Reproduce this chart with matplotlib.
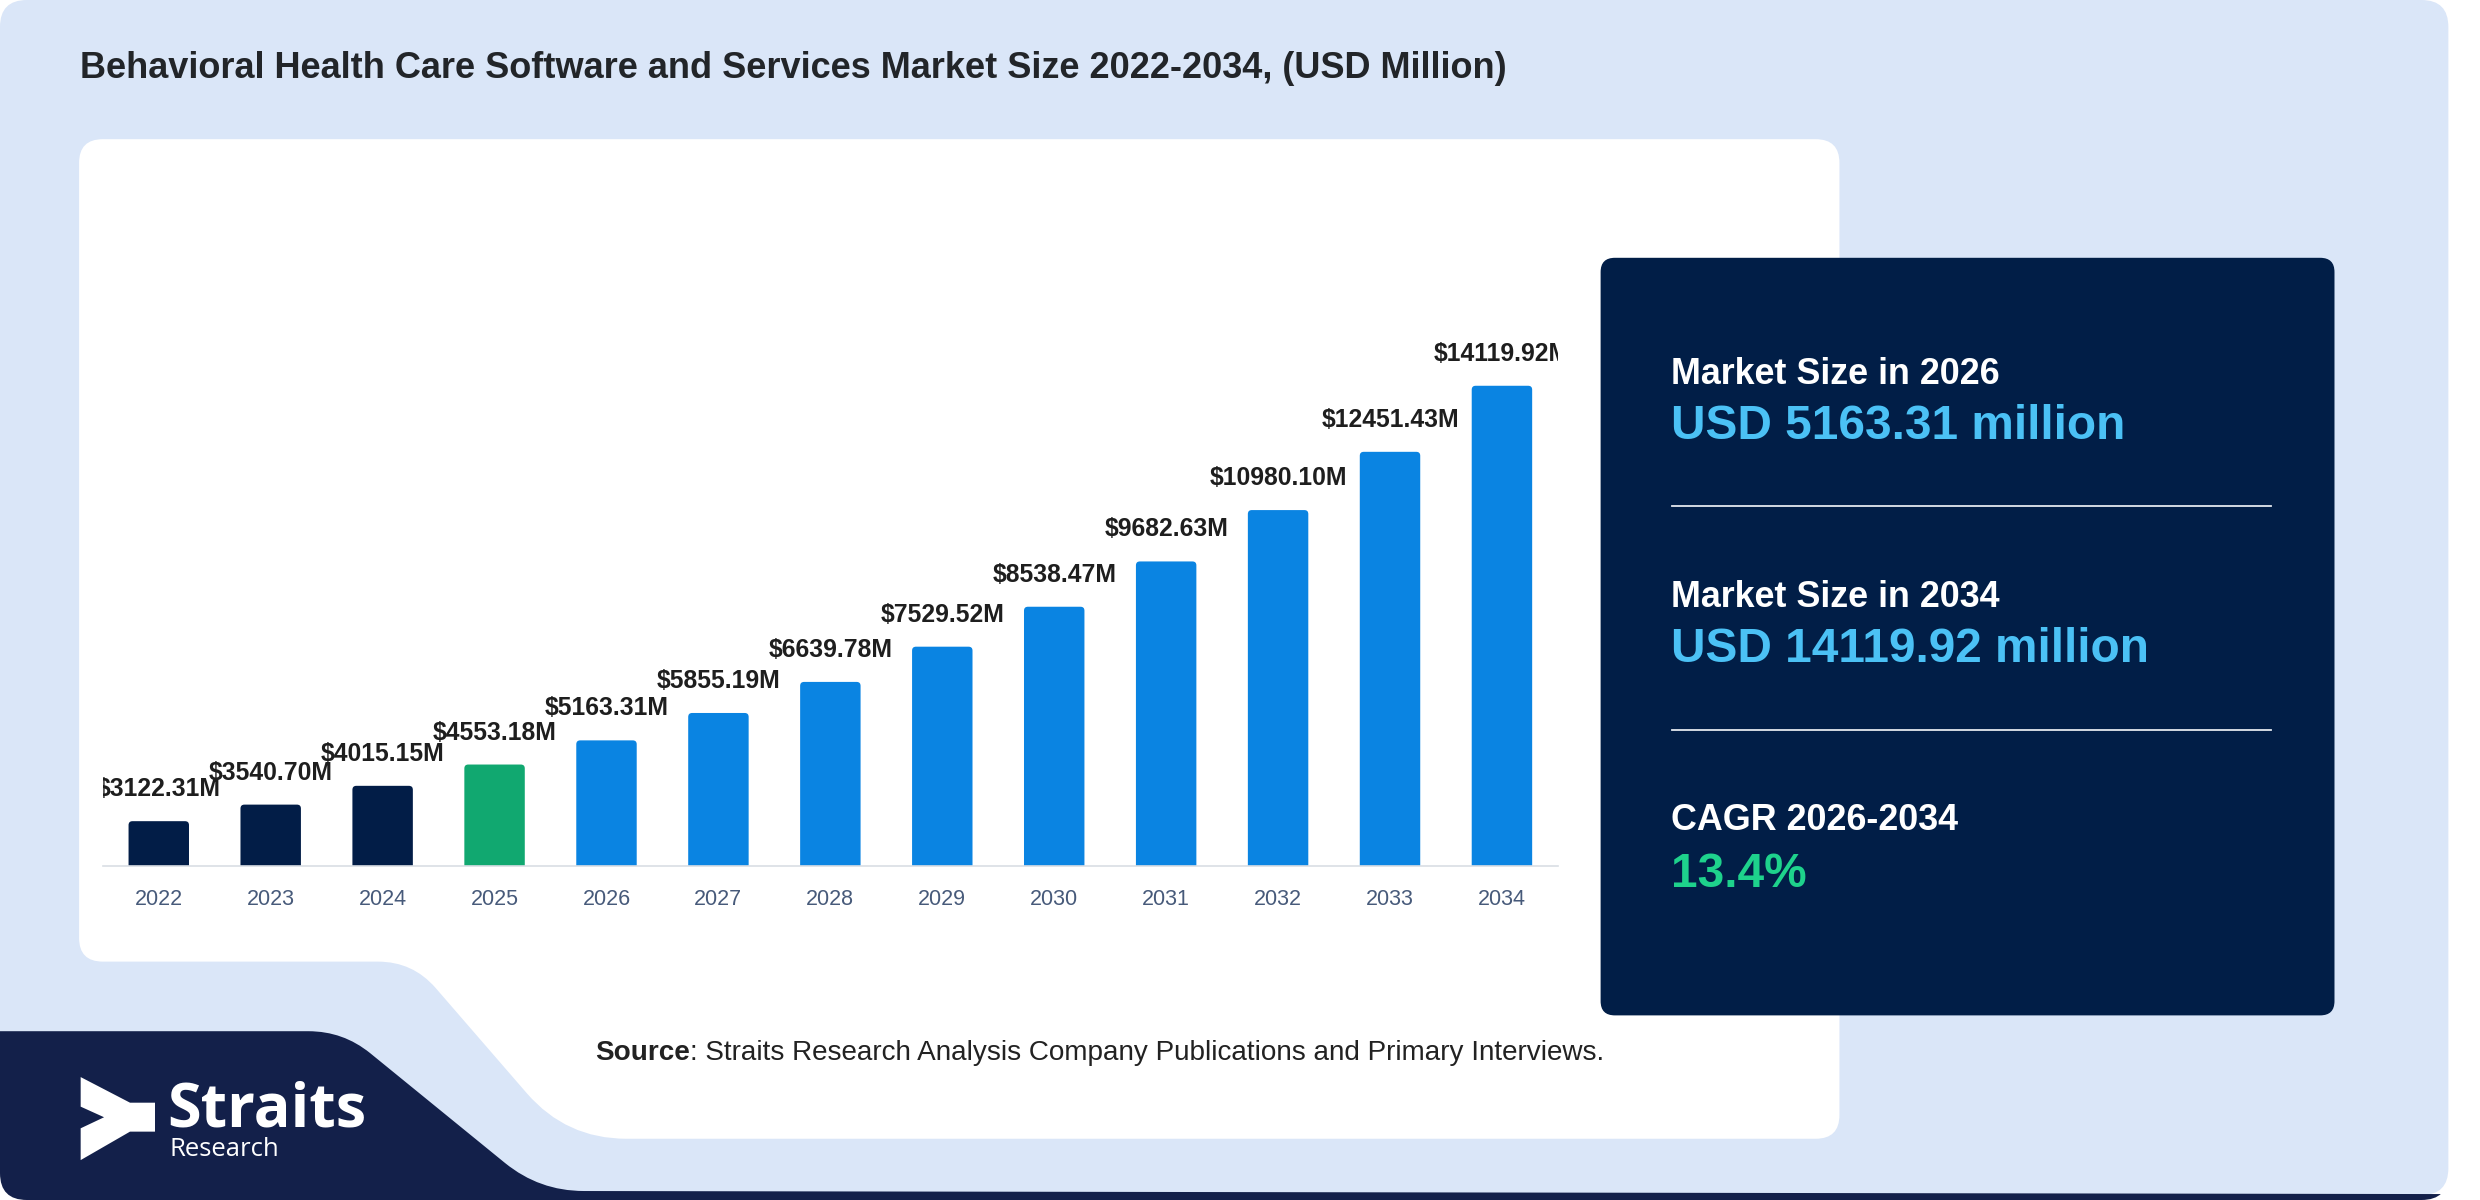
import numpy as np
import matplotlib.pyplot as plt
from matplotlib.patches import FancyBboxPatch, PathPatch, Polygon
from matplotlib.path import Path
from matplotlib.transforms import offset_copy

# data
years = ['2022', '2023', '2024', '2025', '2026', '2027', '2028',
         '2029', '2030', '2031', '2032', '2033', '2034']
values = [3122.31, 3540.70, 4015.15, 4553.18, 5163.31, 5855.19, 6639.78,
          7529.52, 8538.47, 9682.63, 10980.10, 12451.43, 14119.92]
phase = ['hist'] * 3 + ['base'] + ['fcst'] * 9

title = 'Behavioral Health Care Software and Services Market Size 2022-2034, (USD Million)'
kpi_titles = ['Market Size in 2026', 'Market Size in 2034', 'CAGR 2026-2034']
kpi_values = ['USD 5163.31 million', 'USD 14119.92 million', '13.4%']
source_bold = 'Source'
source_rest = ': Straits Research Analysis Company Publications and Primary Interviews.'

# colours
card_col = '#DAE6F8'
navy = '#011E47'
logo_navy = '#13204A'
phase_colors = {'hist': '#021D47', 'base': '#11A870', 'fcst': '#0A84E2'}
kpi_value_colors = ['#4BC1F5', '#4BC1F5', '#1ED28C']

plt.rcParams['font.family'] = ['Liberation Sans', 'DejaVu Sans']

# layout is worked out on a 1568 x 758.7 grid (reference scaled down)
W, H = 1568.0, 1200 / 1.5816


def rounded_path(pts, radii):
    # closed polygon with rounded corners (quadratic bezier at each vertex)
    verts, codes = [], []
    n = len(pts)
    for i in range(n):
        p = np.array(pts[i], float)
        a = np.array(pts[i - 1], float)
        b = np.array(pts[(i + 1) % n], float)
        d1 = (a - p) / np.linalg.norm(a - p)
        d2 = (b - p) / np.linalg.norm(b - p)
        verts.append(p + d1 * radii[i])
        codes.append(Path.MOVETO if i == 0 else Path.LINETO)
        verts += [p, p + d2 * radii[i]]
        codes += [Path.CURVE3, Path.CURVE3]
    verts.append(verts[0])
    codes.append(Path.CLOSEPOLY)
    return Path(verts, codes)


fig = plt.figure(figsize=(24.8, 12), dpi=100, facecolor='white')

# background layer
bg = fig.add_axes([0, 0, 1, 1])
bg.set_xlim(0, W)
bg.set_ylim(H, 0)
bg.axis('off')

card = FancyBboxPatch((0, 0), 1548, 755.6, boxstyle='round,pad=0,rounding_size=17',
                      fc=card_col, ec='none', zorder=1)
bg.add_patch(card)

clip = FancyBboxPatch((0, 0), 1548, H, boxstyle='round,pad=0,rounding_size=17',
                      fc='none', ec='none', transform=bg.transData)
logo_shape = PathPatch(rounded_path([(-10, 652), (217, 652), (341, 753), (1560, 755),
                                     (1560, 780), (-10, 780)],
                                    [1, 22, 28, 1, 1, 1]),
                       fc=logo_navy, ec='none', zorder=2)
bg.add_patch(logo_shape)
logo_shape.set_clip_path(clip)

white_panel = PathPatch(rounded_path([(50, 88), (1163, 88), (1163, 720), (358, 720),
                                      (261, 608), (50, 608)],
                                     [15, 15, 15, 38, 22, 15]),
                        fc='white', ec='none', zorder=2)
bg.add_patch(white_panel)

kpi_box = FancyBboxPatch((1012, 163), 464, 479, boxstyle='round,pad=0,rounding_size=9',
                         fc=navy, ec='none', zorder=3)
bg.add_patch(kpi_box)

# title
bg.text(50.7, 49.3, title, fontsize=26, fontweight='bold', color='#222529',
        va='baseline', ha='left', zorder=5)

# kpi texts
title_y = [242.6, 383.9, 525.0]
value_y = [277.4, 418.6, 560.6]
for t, v, ty, vy, c in zip(kpi_titles, kpi_values, title_y, value_y, kpi_value_colors):
    bg.text(1056.7, ty, t, fontsize=25.8, fontweight='bold', color='white',
            va='baseline', zorder=5)
    bg.text(1056.7, vy, v, fontsize=34.4, fontweight='bold', color=c,
            va='baseline', zorder=5)
for ly in [320, 461.3]:
    bg.plot([1057, 1436], [ly, ly], color='#E3E8EF', lw=1.3, zorder=5)

# source line
src = bg.text(376.5, 670.2, source_bold, fontsize=20.1, fontweight='bold', color='#222222',
              va='baseline', zorder=5)
bg.annotate(source_rest, xy=(1, 0), xycoords=src, fontsize=20.1, color='#222222',
            va='bottom', ha='left', zorder=5)

# logo
icon = [(51, 681), (82.2, 697.2), (98, 697.2), (98, 715.5), (82.2, 715.5),
        (51, 733.5), (51, 713.4), (65.8, 706.4), (51, 699.7)]
bg.add_patch(Polygon(icon, closed=True, fc='white', ec='none', zorder=5))
bg.text(105.5, 712, 'Straits', family=['Open Sans', 'DejaVu Sans'], fontweight='bold',
        fontsize=44, color='white', va='baseline', zorder=5)
bg.text(107, 731, 'Research', family=['Open Sans', 'DejaVu Sans'],
        fontsize=18.5, color='white', va='baseline', zorder=5)

# bar chart
ax = fig.add_axes([65 / W, 1 - 547.3 / H, 920 / W, (547.3 - 180) / H])
ax.set_facecolor('none')
x = np.arange(len(years))
bars = ax.bar(x, values, width=0.54, color=[phase_colors[p] for p in phase], zorder=3)
ax.set_xlim(-0.5, len(years) - 0.5)
ax.set_ylim(2000, 16673)

# give the bars slightly rounded tops (same geometry as the bar patches)
px_x = 920 / 13.0            # display units per x unit
px_y = 367.3 / (16673 - 2000)  # display units per y unit
aspect = (1 / px_y) / (1 / px_x)
for b in bars:
    b.set_visible(False)
    ax.add_patch(FancyBboxPatch((b.get_x(), b.get_y()), b.get_width(), b.get_height(),
                                boxstyle='round,pad=0,rounding_size=0.035',
                                mutation_aspect=aspect, fc=b.get_facecolor(),
                                ec='none', zorder=3))

lab_tr = offset_copy(ax.transData, fig=fig, y=18, units='points')
for xi, v in zip(x, values):
    ax.text(xi, v, f'${v:.2f}M', transform=lab_tr, ha='center', va='baseline',
            fontsize=17.8, fontweight='bold', color='#1E1E1E', clip_on=True, zorder=4)

ax.set_xticks(x)
ax.set_xticklabels(years)
ax.set_yticks([])
ax.tick_params(axis='x', length=0, pad=17, labelsize=15.5, labelcolor='#475A7A')
for s in ['top', 'right', 'left']:
    ax.spines[s].set_visible(False)
ax.spines['bottom'].set_color('#D9DEE4')
ax.spines['bottom'].set_linewidth(1.2)
ax.spines['bottom'].set_zorder(4)

fig.savefig('out.png', dpi=100, facecolor='white')
